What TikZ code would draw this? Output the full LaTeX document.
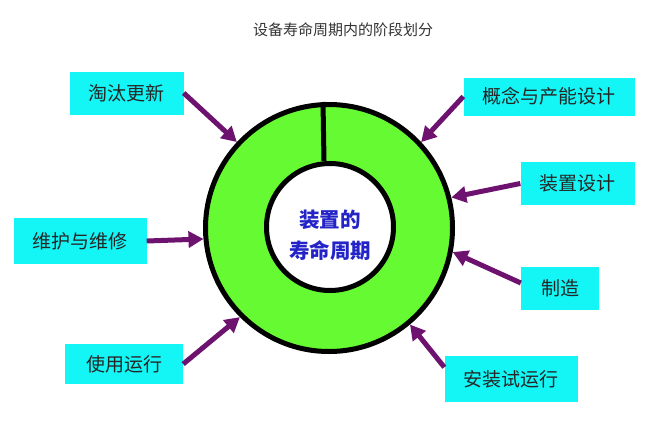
\documentclass[tikz,border=0pt]{standalone}
\usepackage{fontspec}
\setmainfont{Noto Sans CJK SC}
\usetikzlibrary{arrows.meta}
\definecolor{ringgreen}{RGB}{102,250,51}
\definecolor{boxcyan}{RGB}{20,245,245}
\definecolor{feedpurple}{RGB}{110,18,112}
\definecolor{labelblue}{RGB}{35,35,200}
\begin{document}
\begin{tikzpicture}[x=1pt,y=-1pt,
    stage/.style={fill=boxcyan, inner xsep=19pt, minimum height=43pt,
      font=\fontsize{19}{19}\selectfont, text=black!85},
    feed/.style={line width=5pt, draw=feedpurple, -{Triangle[length=15pt,width=16pt]}}]
  \useasboundingbox (0,0) rectangle (648,426);
  \node[text=black!80, font=\fontsize{15}{15}\selectfont] (title) at (343,30) {设备寿命周期内的阶段划分};
  % ring
  \node[circle, draw, line width=5pt, fill=ringgreen, minimum size=247pt] (outer) at (329,228) {};
  \node[circle, draw, line width=5pt, fill=white, minimum size=127pt] (inner) at (330,227) {};
  \draw[line width=5pt] ([xshift=-6pt]inner.north) -- ([xshift=-6pt]outer.north);
  \node[align=center, text=labelblue, font=\fontsize{20.5}{31}\selectfont\bfseries] (life) at (330,235) {装置的\\寿命周期};
  % stages
  \node[stage] (retire) at (126.5,93) {淘汰更新};
  \node[stage, minimum height=38pt] (concept) at (549,96.5) {概念与产能设计};
  \node[stage] (design) at (577.5,183.5) {装置设计};
  \node[stage, minimum height=46pt] (upkeep) at (80,241) {维护与维修};
  \node[stage, inner xsep=20pt] (make) at (560,288.5) {制造};
  \node[stage, minimum height=40pt, inner xsep=21pt] (operate) at (124,364) {使用运行};
  \node[stage, minimum height=46pt] (install) at (511,379) {安装试运行};
  \draw[feed] (retire.east) -- (outer.137);
  \draw[feed] (concept.west) -- (outer.43);
  \draw[feed] (design.west) -- (outer.14);
  \draw[feed] (upkeep.east) -- (outer.185);
  \draw[feed] (make.172) -- (outer.-11);
  \draw[feed] (operate.east) -- (outer.225);
  \draw[feed] (install.170) -- (outer.-50);
\end{tikzpicture}
\end{document}
